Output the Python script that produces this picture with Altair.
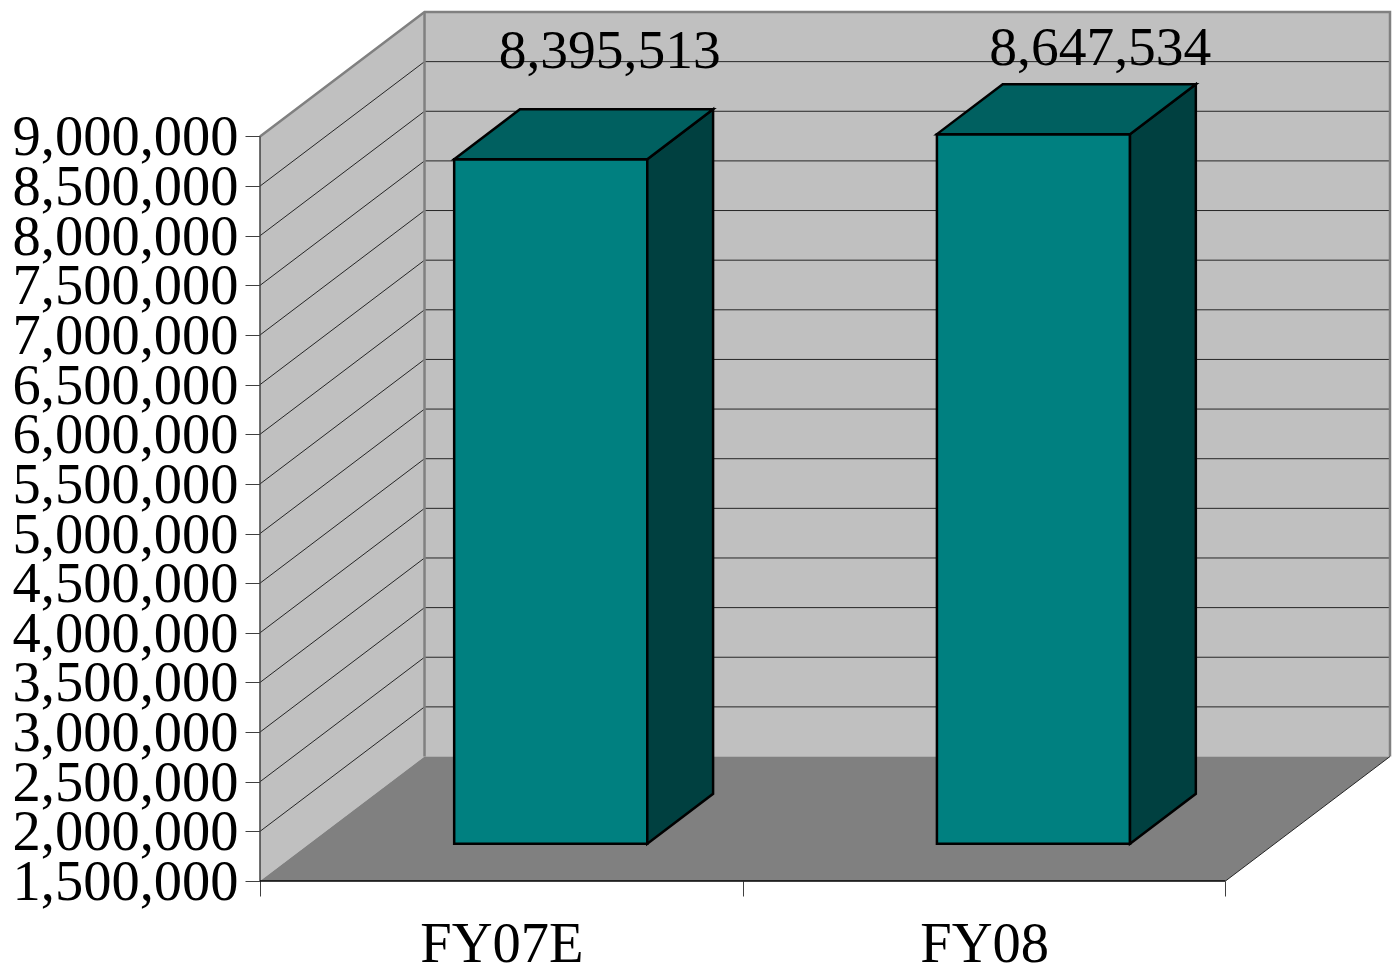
import altair as alt
import pandas as pd

categories = ["FY07E", "FY08"]
values = [8395513, 8647534]
y_ticks = [1500000 + 500000 * i for i in range(16)]
x_ticks = [0, 1, 2]

BASE = 1500000
TOP = 9000000
# Oblique projection: how far the rear plane is shifted, in axis units.
DEPTH_X = 0.3408
DEPTH_Y = 1254000
BAR_NEAR, BAR_FAR = 0.3, 0.7
# Label offsets (dx, dy) per bar, in pixels from the centre of the bar's top.
LABEL_NUDGE = [(26, -41), (34, -19)]

FONT = "Liberation Serif"
WALL, FLOOR, EDGE = "#c0c0c0", "#808080", "#808080"
FRONT, ROOF, SIDE = "#008080", "#006060", "#004040"

xs = alt.Scale(domain=[0, 2 + DEPTH_X], nice=False, zero=False)
ys = alt.Scale(domain=[BASE, TOP + DEPTH_Y], nice=False, zero=False)


def X(field="x", axis=None):
    return alt.X(f"{field}:Q", scale=xs, axis=axis, title=None)


def Y(field="y", axis=None):
    return alt.Y(f"{field}:Q", scale=ys, axis=axis, title=None)


def px(pos, depth=0.0):
    return pos + depth * DEPTH_X


def py(val, depth=0.0):
    return val + depth * DEPTH_Y


def upright(points, color, **mark):
    """Face whose two vertical edges are given as (x, low, high)."""
    df = pd.DataFrame(points, columns=["x", "y", "y2"])
    return alt.Chart(df).mark_area(color=color, **mark).encode(
        x=X(), y=Y(), y2="y2:Q"
    )


def level(points, color, **mark):
    """Face whose two horizontal edges are given as (y, left, right)."""
    df = pd.DataFrame(points, columns=["y", "x", "x2"])
    return alt.Chart(df).mark_area(color=color, orient="horizontal", **mark).encode(
        y=Y(), x=X(), x2="x2:Q"
    )


def path(points, color, width):
    df = pd.DataFrame(points, columns=["x", "y"]).assign(o=range(len(points)))
    return alt.Chart(df).mark_line(color=color, strokeWidth=width).encode(
        x=X(), y=Y(), order="o:Q"
    )


layers = []

# Left wall, carrying the value axis.
y_axis = alt.Axis(
    orient="left", values=y_ticks, labelExpr="format(datum.value, ',')", domain=False,
    grid=False, tickSize=15, tickWidth=1, tickColor="#404040", labelFont=FONT,
    labelFontSize=56.5, labelColor="#000000", labelPadding=7, labelOverlap=False,
    labelFlush=False, labelLimit=400, labelOffset=1.5,
)
wall_df = pd.DataFrame(
    [(px(0), BASE, TOP), (px(0, 1), py(BASE, 1), py(TOP, 1))], columns=["x", "y", "y2"]
)
layers.append(
    alt.Chart(wall_df).mark_area(color=WALL).encode(x=X(), y=Y(axis=y_axis), y2="y2:Q")
)

# Back wall.
layers.append(
    upright([(px(0, 1), py(BASE, 1), py(TOP, 1)), (px(2, 1), py(BASE, 1), py(TOP, 1))], WALL)
)

# Gridlines running along both walls.
for tick in y_ticks[1:-1]:
    layers.append(
        path([(px(0), py(tick)), (px(0, 1), py(tick, 1)), (px(2, 1), py(tick, 1))], "#262626", 1)
    )

# Floor.
layers.append(level([(py(BASE), px(0), px(2)), (py(BASE, 1), px(0, 1), px(2, 1))], FLOOR))

# Wall outlines.
layers.append(
    path(
        [(px(0), py(TOP)), (px(0, 1), py(TOP, 1)), (px(2, 1), py(TOP, 1)), (px(2, 1), py(BASE, 1))],
        EDGE, 2.5,
    )
)
layers.append(path([(px(0, 1), py(BASE, 1)), (px(0, 1), py(TOP, 1))], EDGE, 2.5))
layers.append(path([(px(2), py(BASE)), (px(2, 1), py(BASE, 1))], "#262626", 1))
layers.append(path([(px(0), py(BASE)), (px(0), py(TOP))], "#404040", 1.5))
layers.append(path([(px(0), py(BASE)), (px(2), py(BASE))], "#000000", 1.5))

# Bars, each built from its front, side and top faces.
for i, val in enumerate(values):
    left, right = i + BAR_NEAR, i + BAR_FAR
    front = pd.DataFrame(
        [{"x": px(left, BAR_NEAR), "x2": px(right, BAR_NEAR),
          "y": py(BASE, BAR_NEAR), "y2": py(val, BAR_NEAR)}]
    )
    layers.append(
        alt.Chart(front).mark_rect(color=FRONT, stroke="#000000", strokeWidth=2.5).encode(
            x=X(), x2="x2:Q", y=Y(), y2="y2:Q"
        )
    )
    layers.append(
        upright(
            [(px(right, BAR_NEAR), py(BASE, BAR_NEAR), py(val, BAR_NEAR)),
             (px(right, BAR_FAR), py(BASE, BAR_FAR), py(val, BAR_FAR))],
            SIDE, stroke="#000000", strokeWidth=2.5,
        )
    )
    layers.append(
        level(
            [(py(val, BAR_NEAR), px(left, BAR_NEAR), px(right, BAR_NEAR)),
             (py(val, BAR_FAR), px(left, BAR_FAR), px(right, BAR_FAR))],
            ROOF, stroke="#000000", strokeWidth=2.5,
        )
    )
    dx, dy = LABEL_NUDGE[i]
    label = pd.DataFrame(
        [{"x": px(i + 0.5, 0.5), "y": py(val, BAR_FAR), "v": val}]
    )
    layers.append(
        alt.Chart(label).mark_text(
            font=FONT, fontSize=55.5, color="#000000", baseline="alphabetic",
            align="center", dx=dx, dy=dy,
        ).encode(x=X(), y=Y(), text=alt.Text("v:Q", format=","))
    )

# Category axis: ticks at the boundaries, names centred between them.
tick_axis = alt.Axis(
    orient="bottom", values=x_ticks, labels=False, domain=False, grid=False, tickSize=15,
    tickWidth=1, tickColor="#404040",
)
layers.append(
    alt.Chart(pd.DataFrame({"x": x_ticks, "y": [BASE] * len(x_ticks)}))
    .mark_point(opacity=0).encode(x=X(axis=tick_axis), y=Y())
)
name_pos = {i + 0.5: c for i, c in enumerate(categories)}
name_expr = " : ".join(f"datum.value == {k} ? '{v}'" for k, v in name_pos.items()) + " : ''"
name_axis = alt.Axis(
    orient="bottom", values=list(name_pos), labelExpr=name_expr, ticks=False, domain=False,
    grid=False, labelFont=FONT, labelFontSize=56.5, labelColor="#000000",
    labelBaseline="alphabetic", labelPadding=80, labelFlush=False,
)
layers.append(
    alt.Chart(pd.DataFrame({"x": list(name_pos), "y": [BASE] * len(name_pos)}))
    .mark_point(opacity=0).encode(x=X(axis=name_axis), y=Y())
)

chart = (
    alt.layer(*layers)
    .resolve_axis(x="independent", y="independent")
    .properties(
        width=1130,
        height=869,
        autosize=alt.AutoSizeParams(type="none"),
        padding={"left": 260, "top": 12, "right": 7, "bottom": 92},
        background="#ffffff",
    )
    .configure_view(stroke=None)
)

chart.save("out.html", embed_options={"renderer": "svg", "actions": False})
